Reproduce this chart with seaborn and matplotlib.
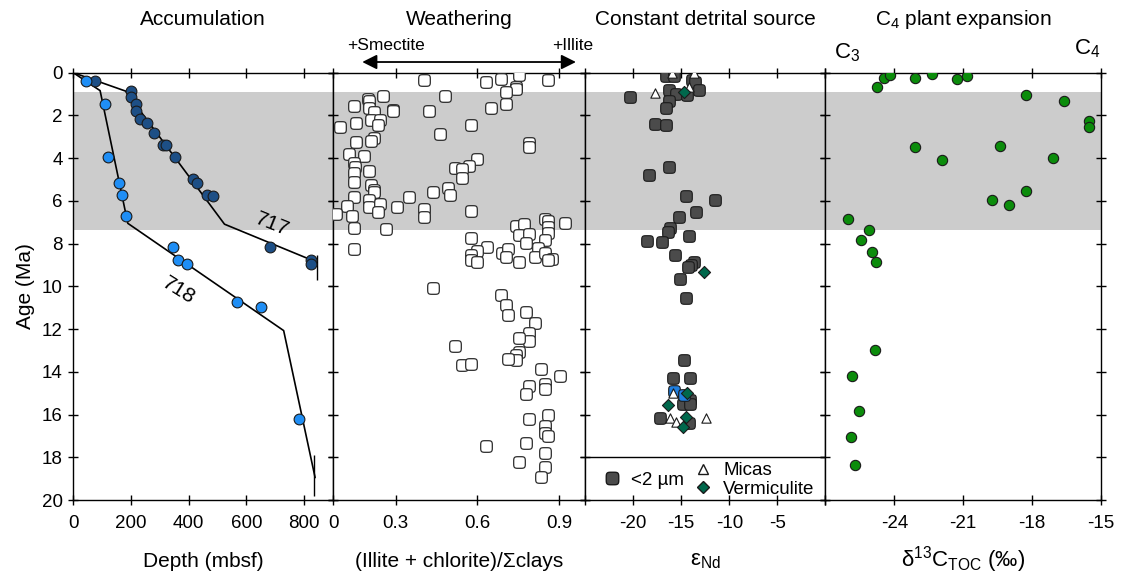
import numpy as np
import pandas as pd
import matplotlib
matplotlib.use("Agg")
import matplotlib.pyplot as plt
from matplotlib.path import Path
from matplotlib.lines import Line2D
import seaborn as sns

# ---- Accumulation (Sites 717 / 718) ----
site717_depth = [75, 199, 200, 219, 219, 231, 255, 280, 310, 321, 351, 416, 428, 462, 483, 681, 825, 825]
site717_age = [0.37, 0.84, 1.12, 1.46, 1.79, 2.18, 2.35, 2.84, 3.40, 3.40, 3.96, 4.97, 5.18, 5.72, 5.79, 8.14, 8.77, 8.94]
site718_depth = [44, 111, 122, 158, 170, 183, 346, 362, 393, 566, 651, 783]
site718_age = [0.37, 1.46, 3.96, 5.18, 5.74, 6.69, 8.14, 8.78, 8.94, 10.72, 10.96, 16.19]
fit717_depth = [0, 181, 524, 844]
fit717_age = [0, 0.86, 7.09, 8.87]
fit718_depth = [0, 93, 189, 729, 838]
fit718_age = [0, 0.84, 7.05, 12.07, 18.95]

# ---- Weathering ----
clay_ratio = [0.405, 0.632, 0.686, 0.752, 0.860, 0.740, 0.740, 0.704, 0.253, 0.480,
              0.198, 0.202, 0.146, 0.203, 0.704, 0.650, 0.292, 0.292, 0.222, 0.424,
              0.209, 0.241, 0.235, 0.153, 0.095, 0.576, 0.462, 0.153, 0.222, 0.209,
              0.790, 0.790, 0.127, 0.183, 0.146, 0.152, 0.146, 0.146, 0.203, 0.600,
              0.569, 0.519, 0.544, 0.544, 0.209, 0.222, 0.222, 0.146, 0.492, 0.501,
              0.436, 0.348, 0.121, 0.203, 0.203, 0.241, 0.235, 0.304, 0.082, 0.139,
              0.405, 0.405, 0.576, 0.146, 0.266, 0.146, 0.848, 0.860, 0.922, 0.860,
              0.860, 0.740, 0.771, 0.752, 0.790, 0.848, 0.778, 0.822, 0.810, 0.848,
              0.872, 0.860, 0.752, 0.576, 0.635, 0.600, 0.576, 0.576, 0.600, 0.689,
              0.714, 0.704, 0.437, 0.686, 0.704, 0.714, 0.778, 0.810, 0.790, 0.790,
              0.752, 0.752, 0.740, 0.740, 0.714, 0.518, 0.544, 0.576, 0.834, 0.903,
              0.790, 0.778, 0.848, 0.848, 0.860, 0.848, 0.848, 0.860, 0.790, 0.778,
              0.848, 0.848, 0.834, 0.752, 0.632]
clay_age = [0.36, 0.44, 0.28, 0.11, 0.36, 0.65, 0.75, 0.89, 1.08, 1.08,
            1.25, 1.32, 1.56, 1.64, 1.48, 1.64, 1.73, 1.81, 1.85, 1.81,
            2.20, 2.20, 2.43, 2.35, 2.53, 2.43, 2.88, 3.24, 3.04, 3.20,
            3.31, 3.49, 3.80, 3.90, 4.24, 4.43, 4.68, 5.10, 4.60, 4.04,
            4.37, 4.45, 4.52, 4.91, 5.25, 5.49, 5.58, 5.80, 5.40, 5.74,
            5.58, 5.80, 6.22, 5.96, 6.28, 6.14, 6.53, 6.28, 6.61, 6.69,
            6.38, 6.77, 6.47, 7.25, 7.33, 8.24, 6.86, 6.94, 7.02, 7.21,
            7.49, 7.17, 7.09, 7.60, 7.55, 7.83, 7.96, 8.22, 8.64, 8.45,
            8.73, 8.78, 8.86, 7.75, 8.14, 8.33, 8.53, 8.76, 8.86, 8.42,
            8.25, 8.61, 10.08, 10.40, 10.89, 11.36, 11.20, 11.70, 12.17, 12.57,
            12.41, 13.05, 13.22, 13.44, 13.38, 12.79, 13.69, 13.63, 13.85, 14.18,
            14.66, 15.05, 14.58, 14.82, 16.03, 16.52, 16.85, 17.00, 16.19, 17.31,
            17.80, 18.45, 18.92, 18.20, 17.47]

# ---- Constant detrital source (eps Nd) ----
fine_end = [-16.6, -15.7, -13.9, -13.6, -13.1, -16.3, -15.5, -14.4, -20.3, -16.3,
            -16.6, -17.7, -16.6, -16.3, -18.3, -14.5, -11.5, -13.5, -15.2, -16.2,
            -16.4, -14.2, -18.6, -17.0, -15.6, -13.7, -14.0, -14.3, -15.1, -14.5,
            -14.7, -15.8, -14.1, -14.1, -14.8, -14.1, -17.2, -14.2]
fine_age = [0.14, 0.14, 0.34, 0.44, 0.83, 0.81, 1.01, 1.03, 1.12, 1.31,
            1.64, 2.40, 2.43, 4.41, 4.77, 5.77, 5.97, 6.52, 6.74, 7.25,
            7.44, 7.64, 7.89, 7.92, 8.54, 8.87, 8.98, 9.11, 9.65, 10.54,
            13.44, 14.30, 14.30, 15.32, 15.52, 15.52, 16.17, 16.38]
blue_end = [-15.7, -14.7]
blue_age = [14.91, 15.08]
mica_end = [-16.0, -13.7, -17.7, -14.2, -15.8, -16.2, -15.5, -12.4]
mica_age = [0.02, 0.02, 0.97, 0.68, 14.97, 16.17, 16.36, 16.17]
verm_end = [-14.7, -12.6, -14.4, -16.4, -14.5, -14.8]
verm_age = [0.92, 9.33, 14.97, 15.56, 16.10, 16.59]

# ---- C4 plant expansion ----
d13c = [-24.76, -24.45, -24.19, -23.10, -22.35, -21.29, -20.85, -18.27, -16.61, -15.51,
        -15.51, -23.10, -21.92, -19.41, -17.10, -18.27, -19.73, -19.02, -26.03, -25.12,
        -25.46, -24.98, -24.78, -24.85, -25.84, -25.52, -25.88, -25.72]
d13c_age = [0.66, 0.25, 0.12, 0.25, 0.08, 0.31, 0.14, 1.04, 1.31, 2.28,
            2.53, 3.49, 4.07, 3.41, 3.99, 5.55, 5.96, 6.19, 6.85, 7.35,
            7.83, 8.39, 8.87, 12.98, 14.19, 15.83, 17.05, 18.36]

band = (0.92, 7.38)
age_ticks = list(range(0, 21, 2))

sns.set_style("white")
plt.rcParams["font.family"] = ["Liberation Sans", "DejaVu Sans"]
plt.rcParams["mathtext.fontset"] = "custom"
plt.rcParams["mathtext.rm"] = "Liberation Sans"
plt.rcParams["mathtext.it"] = "Liberation Sans"
for key in ["text.color", "axes.labelcolor", "xtick.color", "ytick.color"]:
    plt.rcParams[key] = "black"

# rounded square marker (superellipse)
t = np.linspace(0, 2 * np.pi, 73)
rsq = Path(np.column_stack([np.sign(np.cos(t)) * np.abs(np.cos(t)) ** 0.45,
                            np.sign(np.sin(t)) * np.abs(np.sin(t)) ** 0.45]))

fig = plt.figure(figsize=(11.22, 5.76), dpi=100)
H, B = 0.7419, 0.1319
ax1 = fig.add_axes([0.0653, B, 0.2315, H])
ax2 = fig.add_axes([0.2968, B, 0.2246, H])
ax3 = fig.add_axes([0.5214, B, 0.2143, H])
ax4 = fig.add_axes([0.7357, B, 0.2455, H])
axes = [ax1, ax2, ax3, ax4]

for ax in axes:
    ax.axhspan(*band, color="#cccccc", lw=0, zorder=0)
    ax.set_ylim(20, 0)
    ax.set_yticks(age_ticks)
    ax.tick_params(direction="inout", length=7, width=1, top=True, right=True,
                   left=True, bottom=True, labelsize=13.5, pad=7)
    ax.tick_params(axis="y", pad=4)
    for s in ax.spines.values():
        s.set_linewidth(1)
        s.set_color("black")
    if ax is not ax1:
        ax.set_yticklabels([])

# Accumulation
sns.lineplot(x=fit717_depth, y=fit717_age, sort=False, estimator=None, color="black", lw=1.2, ax=ax1)
sns.lineplot(x=fit718_depth, y=fit718_age, sort=False, estimator=None, color="black", lw=1.2, ax=ax1)
ax1.vlines([845, 835], [8.55, 17.9], [9.7, 19.8], color="black", lw=1)
sns.scatterplot(x=site717_depth, y=site717_age, color="#1d4f86", edgecolor="#1a1a1a", linewidth=0.8, s=60, ax=ax1, zorder=3)
sns.scatterplot(x=site718_depth, y=site718_age, color="#1f8ef5", edgecolor="#1a1a1a", linewidth=0.8, s=60, ax=ax1, zorder=3)
ax1.text(690, 7.1, "717", rotation=-22, fontsize=15, ha="center", va="center")
ax1.text(365, 10.2, "718", rotation=-32, fontsize=15, ha="center", va="center")
ax1.set_xlim(0, 900)
ax1.set_xticks([0, 200, 400, 600, 800])
ax1.set_ylabel("Age (Ma)", fontsize=15, labelpad=5)
ax1.set_xlabel("Depth (mbsf)", fontsize=15, labelpad=15)
ax1.set_title("Accumulation", fontsize=15, pad=34)

# Weathering
sns.scatterplot(x=clay_ratio, y=clay_age, marker=rsq, color="white", edgecolor="#2a2a2a", linewidth=0.9, s=70, ax=ax2, zorder=3)
ax2.set_xlim(0.07, 0.995)
ax2.set_xticks([0.07, 0.3, 0.6, 0.9])
ax2.set_xticklabels(["0", "0.3", "0.6", "0.9"])
ax2.set_xlabel("(Illite + chlorite)/Σclays", fontsize=15, labelpad=15)
ax2.set_title("Weathering", fontsize=15, pad=34)
ax2.text(0.21, 1.045, "+Smectite", transform=ax2.transAxes, fontsize=12.5, ha="center", va="bottom")
ax2.text(0.95, 1.045, "+Illite", transform=ax2.transAxes, fontsize=12.5, ha="center", va="bottom")
ax2.annotate("", xy=(0.105, 1.025), xytext=(0.975, 1.025), xycoords="axes fraction",
             arrowprops=dict(arrowstyle="<|-|>", color="black", lw=1.3, mutation_scale=22),
             annotation_clip=False)

# Constant detrital source
sns.scatterplot(x=fine_end, y=fine_age, marker=rsq, color="#4b4b4b", edgecolor="#1a1a1a", linewidth=0.8, s=70, ax=ax3, zorder=3)
sns.scatterplot(x=blue_end, y=blue_age, marker=rsq, color="#1f7fe0", edgecolor="#1a1a1a", linewidth=0.8, s=70, ax=ax3, zorder=3)
sns.scatterplot(x=mica_end, y=mica_age, marker="^", color="white", edgecolor="#1a1a1a", linewidth=0.8, s=45, ax=ax3, zorder=4)
sns.scatterplot(x=verm_end, y=verm_age, marker="D", color="#00684c", edgecolor="#1a1a1a", linewidth=0.8, s=38, ax=ax3, zorder=5)
ax3.axhline(18, color="black", lw=1)
ax3.set_xlim(-25, 0)
ax3.set_xticks([-25, -20, -15, -10, -5, 0])
ax3.set_xticklabels(["", "-20", "-15", "-10", "-5", ""])
ax3.set_xlabel("ε$_{\\mathregular{Nd}}$", fontsize=16, labelpad=13)
ax3.set_title("Constant detrital source", fontsize=15, pad=34)

h_fine = Line2D([], [], ls="", marker=rsq, ms=9, mfc="#4b4b4b", mec="#1a1a1a")
h_mica = Line2D([], [], ls="", marker="^", ms=7, mfc="white", mec="#1a1a1a")
h_verm = Line2D([], [], ls="", marker="D", ms=6, mfc="#00684c", mec="#1a1a1a")
leg1 = ax3.legend([h_fine], ["<2 µm"], loc="center left", bbox_to_anchor=(-0.02, 0.047),
                  frameon=False, fontsize=13.5, handletextpad=0.0, borderaxespad=0.3)
ax3.add_artist(leg1)
ax3.legend([h_mica, h_verm], ["Micas", "Vermiculite"], loc="center left", bbox_to_anchor=(0.38, 0.047),
           frameon=False, fontsize=13.5, handletextpad=0.1, labelspacing=0.05, borderaxespad=0.0)

# C4 plant expansion
sns.scatterplot(x=d13c, y=d13c_age, color="#0b8c0b", edgecolor="#1a1a1a", linewidth=0.8, s=55, ax=ax4, zorder=3)
ax4.set_xlim(-27, -15)
ax4.set_xticks([-27, -24, -21, -18, -15])
ax4.set_xticklabels(["", "-24", "-21", "-18", "-15"])
ax4.set_xlabel("δ$^{\\mathregular{13}}$C$_{\\mathregular{TOC}}$ (‰)", fontsize=16, labelpad=9)
ax4.set_title("C$_{\\mathregular{4}}$ plant expansion", fontsize=15, pad=34)
ax4.text(0.08, 1.02, "C$_{\\mathregular{3}}$", transform=ax4.transAxes, fontsize=16, ha="center", va="bottom")
ax4.text(0.95, 1.03, "C$_{\\mathregular{4}}$", transform=ax4.transAxes, fontsize=16, ha="center", va="bottom")

fig.savefig("out.png", dpi=100)
